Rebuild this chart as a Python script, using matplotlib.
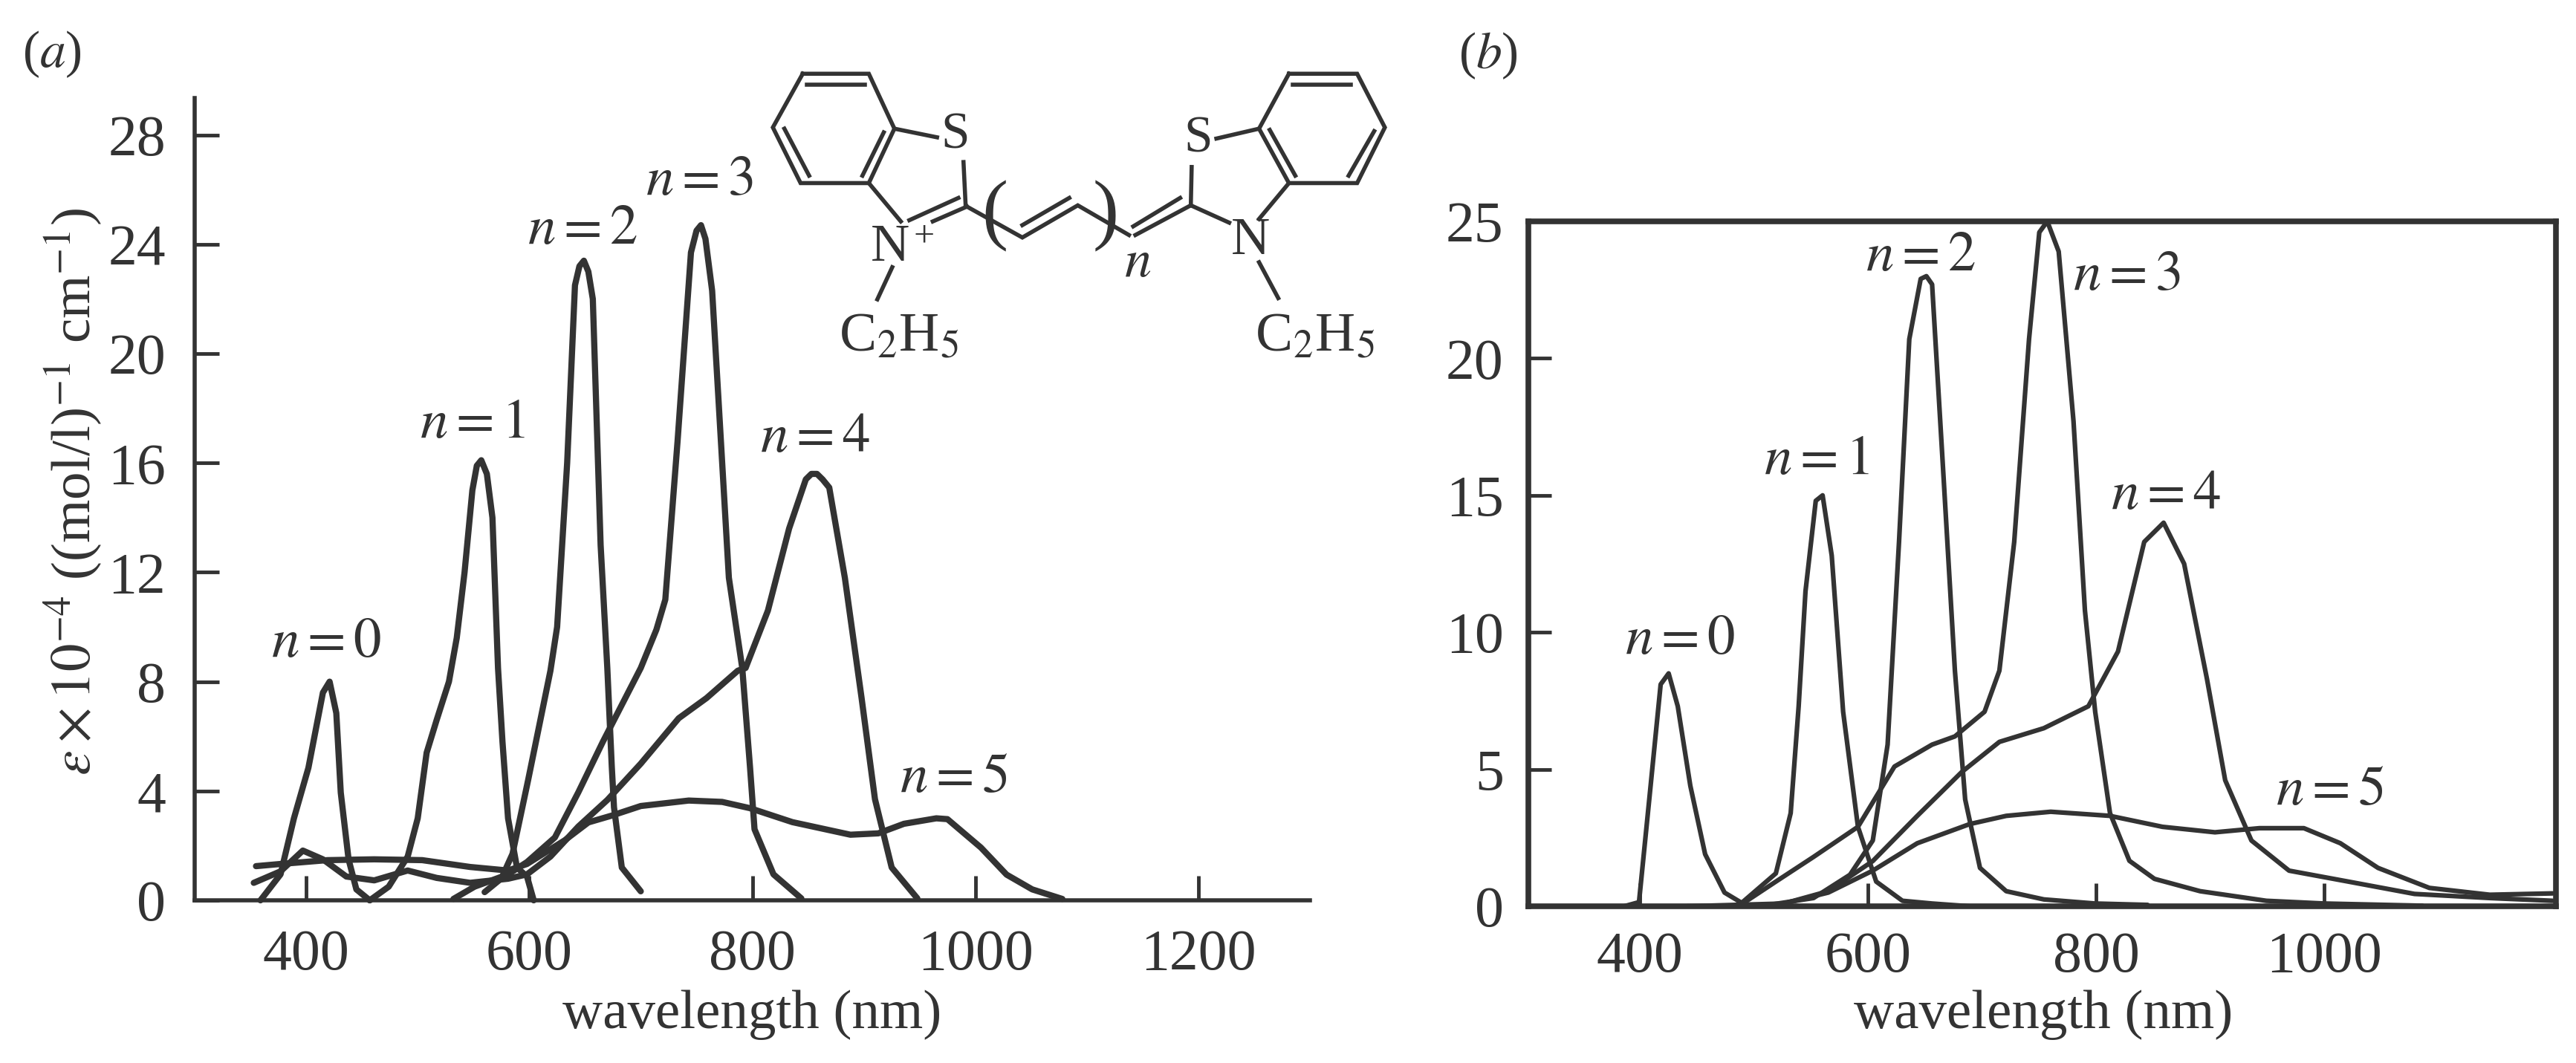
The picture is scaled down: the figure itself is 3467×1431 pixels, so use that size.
import matplotlib
matplotlib.use("Agg")
import matplotlib.pyplot as plt

plt.rcParams['font.family'] = ['Liberation Serif', 'DejaVu Serif']
plt.rcParams['mathtext.fontset'] = 'stix'

W, H = 3467, 1431
INK = '#333333'

# panel a
a_x0 = [359, 377, 389, 402, 415, 421, 427, 431, 438, 445, 457]
a_y0 = [0, 0.95, 3, 4.85, 7.6, 8.0, 6.85, 3.94, 1.5, 0.4, 0]
a_x1 = [457, 474, 491, 500, 508, 517, 528, 535, 542, 549, 553, 557, 562, 567, 572, 576, 581, 589, 598, 604]
a_y1 = [0, 0.5, 1.6, 3, 5.4, 6.6, 8, 9.6, 12, 15, 15.9, 16.1, 15.6, 14, 8.5, 5.8, 3, 1.2, 0.87, 0]
a_x2 = [560, 575, 585, 599, 606, 619, 625, 634, 641, 645, 649, 653, 657, 664, 670, 674, 676, 683, 700]
a_y2 = [0.3, 0.8, 1.7, 4.4, 5.8, 8.4, 10, 16, 22.5, 23.2, 23.4, 23, 22, 13, 8.5, 4.9, 3.4, 1.2, 0.33]
a_x3 = [532, 551, 581, 598, 623, 644, 666, 700, 714, 722, 733, 745, 750, 754, 758, 764, 779, 791, 798, 802, 819, 844]
a_y3 = [0.05, 0.5, 0.95, 1.4, 2.3, 3.95, 5.8, 8.5, 9.9, 11, 16.8, 23.7, 24.5, 24.7, 24.2, 22.3, 11.8, 8.5, 4.85, 2.6, 0.95, 0.07]
a_x4 = [353, 377, 397, 415, 436, 461, 491, 517, 547, 581, 598, 619, 644, 670, 700, 734, 759, 787, 794, 814, 833, 848, 853, 858, 863, 869, 883, 898, 910, 925, 948]
a_y4 = [0.64, 1.06, 1.82, 1.5, 0.87, 0.73, 1.09, 0.82, 0.64, 0.79, 0.95, 1.6, 2.7, 3.67, 5.0, 6.66, 7.4, 8.4, 8.5, 10.6, 13.6, 15.4, 15.6, 15.6, 15.4, 15.1, 11.8, 7.4, 3.7, 1.2, 0.07]
a_x5 = [355, 377, 419, 461, 504, 547, 581, 598, 632, 653, 674, 700, 743, 773, 798, 836, 888, 913, 936, 965, 975, 1005, 1028, 1051, 1078]
a_y5 = [1.25, 1.33, 1.47, 1.5, 1.47, 1.22, 1.09, 1.33, 2.2, 2.85, 3.1, 3.45, 3.65, 3.6, 3.37, 2.86, 2.4, 2.45, 2.8, 3.0, 2.97, 1.93, 0.94, 0.4, 0.05]

# panel b
b_x0 = [386, 399, 408, 418, 425, 433, 444, 457, 474, 490]
b_y0 = [0, 0.15, 3.9, 8.1, 8.5, 7.3, 4.4, 1.9, 0.5, 0.1]
b_x1 = [487, 519, 532, 539, 545, 554, 560, 568, 578, 591, 607, 630, 656, 689]
b_y1 = [0.05, 1.2, 3.4, 7.3, 11.5, 14.8, 15, 12.8, 7.1, 2.9, 0.9, 0.2, 0.1, 0]
b_x2 = [513, 552, 584, 604, 617, 627, 636, 646, 651, 656, 666, 676, 685, 698, 721, 754, 799, 845]
b_y2 = [0.05, 0.3, 1.15, 2.4, 5.9, 13.3, 20.7, 22.9, 23, 22.7, 15.7, 8.6, 3.9, 1.4, 0.55, 0.25, 0.1, 0.05]
b_x3 = [490, 519, 552, 591, 623, 656, 676, 702, 715, 728, 741, 750, 757, 767, 780, 790, 799, 812, 829, 851, 891, 949, 1000, 1086]
b_y3 = [0.1, 0.9, 1.8, 2.9, 5.1, 5.9, 6.2, 7.1, 8.6, 13.3, 20.7, 24.6, 25, 23.9, 17.7, 10.8, 7.1, 3.4, 1.66, 1.0, 0.55, 0.2, 0.1, 0.02]
b_x4 = [441, 526, 565, 604, 643, 682, 715, 754, 793, 819, 842, 859, 877, 897, 913, 936, 969, 1021, 1079, 1145, 1200]
b_y4 = [0, 0.1, 0.55, 1.65, 3.3, 4.9, 6.0, 6.5, 7.3, 9.3, 13.3, 14, 12.5, 8.3, 4.6, 2.4, 1.3, 0.9, 0.45, 0.3, 0.2]
b_x5 = [526, 565, 604, 643, 689, 721, 760, 812, 858, 904, 943, 982, 1014, 1047, 1092, 1145, 1200]
b_y5 = [0.1, 0.5, 1.3, 2.3, 3.0, 3.3, 3.45, 3.3, 2.9, 2.7, 2.85, 2.85, 2.3, 1.4, 0.67, 0.42, 0.47]

a_series = [(a_x0, a_y0), (a_x1, a_y1), (a_x2, a_y2), (a_x3, a_y3), (a_x4, a_y4), (a_x5, a_y5)]
b_series = [(b_x0, b_y0), (b_x1, b_y1), (b_x2, b_y2), (b_x3, b_y3), (b_x4, b_y4), (b_x5, b_y5)]

n_labels = ['$n=0$', '$n=1$', '$n=2$', '$n=3$', '$n=4$', '$n=5$']
a_label_x = [418, 549, 648, 753, 856, 981]
a_label_y = [9.4, 17.4, 24.5, 26.3, 16.9, 4.45]
b_label_x = [435, 555, 646, 827, 861, 1005]
b_label_y = [9.7, 16.25, 23.7, 23, 15, 4.2]


def px_axes(fig, left, top, right, bottom):
    return fig.add_axes([left / W, 1 - bottom / H, (right - left) / W, (bottom - top) / H])


fig = plt.figure(figsize=(W / 100, H / 100), dpi=100)

# (a)
ax = px_axes(fig, 262, 132, 1763, 1212)
for xs, ys in a_series:
    ax.plot(xs, ys, color=INK, lw=6.0, solid_joinstyle='round', solid_capstyle='round', clip_on=False)
ax.set_xlim(300, 1300)
ax.set_ylim(0, 29.35)
ax.set_xticks([400, 600, 800, 1000, 1200])
ax.set_yticks([0, 4, 8, 12, 16, 20, 24, 28])
ax.spines['top'].set_visible(False)
ax.spines['right'].set_visible(False)
ax.spines['left'].set_linewidth(4)
ax.spines['bottom'].set_linewidth(4)
ax.spines['left'].set_color(INK)
ax.spines['bottom'].set_color(INK)
ax.tick_params(direction='in', length=24, width=3.5, color=INK, labelsize=56, labelcolor=INK)
ax.tick_params(axis='x', pad=28)
ax.tick_params(axis='y', pad=28)
for t, tx, ty in zip(n_labels, a_label_x, a_label_y):
    ax.text(tx, ty, t, fontsize=54, color=INK, ha='center', va='center')

# (b)
bx = px_axes(fig, 2057, 298, 3440, 1220)
for xs, ys in b_series:
    bx.plot(xs, ys, color=INK, lw=4.5, solid_joinstyle='round', solid_capstyle='round')
bx.set_xlim(302, 1203)
bx.set_ylim(0, 25)
bx.set_xticks([400, 600, 800, 1000])
bx.set_yticks([0, 5, 10, 15, 20, 25])
for s in bx.spines.values():
    s.set_linewidth(5.5)
    s.set_color(INK)
bx.tick_params(direction='in', length=22, width=3.5, color=INK, labelsize=56, labelcolor=INK)
bx.tick_params(axis='x', pad=24)
bx.tick_params(axis='y', pad=24)
for t, tx, ty in zip(n_labels, b_label_x, b_label_y):
    bx.text(tx, ty, t, fontsize=54, color=INK, ha='center', va='center')

# overlay in pixel coordinates for labels and the molecule
ov = fig.add_axes([0, 0, 1, 1], facecolor='none')
ov.set_xlim(0, W)
ov.set_ylim(H, 0)
ov.axis('off')

ov.text(70, 73, '($a$)', fontsize=50, color=INK, ha='center', va='center')
ov.text(2003, 75, '($b$)', fontsize=50, color=INK, ha='center', va='center')
ov.text(1012, 1366, 'wavelength (nm)', fontsize=54, color=INK, ha='center', va='center')
ov.text(2750, 1366, 'wavelength (nm)', fontsize=54, color=INK, ha='center', va='center')
ov.text(98, 662, r'$\varepsilon\times 10^{-4}$ ((mol/l)$^{-1}$ cm$^{-1}$)', fontsize=54, color=INK,
        rotation=90, ha='center', va='center')


# molecule, coordinates taken from a crop of the figure
def mx(v):
    return 1000 + v * 0.574


def my(v):
    return 50 + v * 0.333


bonds = [
    [(140, 148), (295, 148), (355, 370), (295, 590), (135, 590), (70, 365), (140, 148)],
    [(150, 192), (285, 192)],
    [(97, 370), (155, 560)],
    [(330, 385), (280, 560)],
    [(355, 370), (455, 405)],
    [(295, 590), (370, 745)],
    [(390, 740), (505, 650)],
    [(445, 745), (525, 685)],
    [(517, 505), (522, 680)],
    [(525, 685), (655, 810), (785, 680), (905, 800)],
    [(655, 760), (765, 650)],
    [(920, 800), (1050, 680)],
    [(915, 765), (1025, 650)],
    [(1050, 680), (1140, 750)],
    [(1050, 680), (1052, 525)],
    [(1110, 410), (1210, 370)],
    [(1280, 148), (1440, 148), (1505, 365), (1440, 590), (1280, 590), (1210, 370), (1280, 148)],
    [(1290, 192), (1425, 192)],
    [(1235, 375), (1295, 560)],
    [(1480, 380), (1420, 560)],
    [(1280, 590), (1210, 735)],
    [(350, 930), (315, 1060)],
    [(1210, 910), (1255, 1055)],
]
for b in bonds:
    ov.plot([mx(p[0]) for p in b], [my(p[1]) for p in b], color=INK, lw=4, solid_joinstyle='miter')

mol_text = [('S', 498, 400, 50), ('S', 1068, 415, 50), ('N', 345, 850, 52), ('N', 1190, 825, 52),
            ('$n$', 925, 915, 52), ('(', 590, 725, 76), (')', 850, 725, 76),
            ('C$_2$H$_5$', 365, 1215, 54), ('C$_2$H$_5$', 1340, 1215, 54), ('+', 425, 810, 36)]
for s, x, y, fs in mol_text:
    ov.text(mx(x), my(y), s, fontsize=fs, color=INK, ha='center', va='center')

fig.savefig('out.png', dpi=100, facecolor='white')
